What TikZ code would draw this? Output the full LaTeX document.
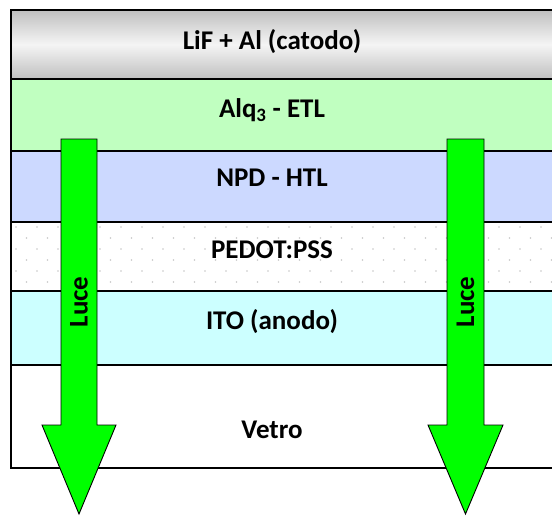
\documentclass[tikz,border=0pt]{standalone}
\usepackage{fontspec}
\setmainfont{Carlito}
\usepackage{tikz}

\definecolor{etlgreen}{RGB}{192,255,192}
\definecolor{htlblue}{RGB}{204,217,255}
\definecolor{itocyan}{RGB}{204,255,255}
\definecolor{lightgreen}{RGB}{0,255,0}
\definecolor{dotgray}{RGB}{200,200,200}

\tikzset{
  txt/.style={font=\fontsize{27}{32}\selectfont\bfseries, inner sep=0pt},
  layerline/.style={draw=black, line width=1.5pt},
  light/.style={fill=lightgreen, draw=black, line width=0.9pt, line join=miter}
}

\begin{document}
\begin{tikzpicture}[x=1pt,y=-1pt]
\useasboundingbox (0,0) rectangle (552,515);

% Layers
\shade[top color=gray!50, bottom color=gray!50, middle color=white!96!black] (11,10) rectangle (560,79);
\fill[etlgreen] (11,79) rectangle (560,151);
\fill[htlblue] (11,151) rectangle (560,222);
\fill[white] (11,222) rectangle (560,291);
\fill[itocyan] (11,291) rectangle (560,365);
\fill[white] (11,365) rectangle (560,468);

% Dots (PEDOT:PSS)
\foreach \r in {0,...,5}
  \foreach \c in {0,...,26}
    \fill[dotgray] ({16+21*\c+10.5*mod(\r,2)},{227+11*\r}) circle (0.9pt);

% Borders
\draw[layerline] (560,10) -- (11,10) -- (11,468) -- (560,468);
\foreach \y in {79,151,222,291,365}
  \draw[layerline] (11,\y) -- (560,\y);

% Light arrows
\draw[light] (61,139) -- (97,139) -- (97,425) -- (116,425) -- (79,514) -- (42,425) -- (61,425) -- cycle;
\draw[light] (447,139) -- (484,139) -- (484,425) -- (503,425) -- (465.5,514) -- (428,425) -- (447,425) -- cycle;

% Labels
\node[txt] (cat) at (272,42) {LiF + Al (catodo)};
\node[txt] (etl) at (272,110) {Alq\textsubscript{3} - ETL};
\node[txt] (htl) at (272,178) {NPD - HTL};
\node[txt] (pedot) at (272,250) {PEDOT:PSS};
\node[txt] (ito) at (272,322) {ITO (anodo)};
\node[txt] (glass) at (272,430) {Vetro};
\node[txt,rotate=90] (luceL) at (79,302) {Luce};
\node[txt,rotate=90] (luceR) at (465.5,302) {Luce};

\end{tikzpicture}
\end{document}
